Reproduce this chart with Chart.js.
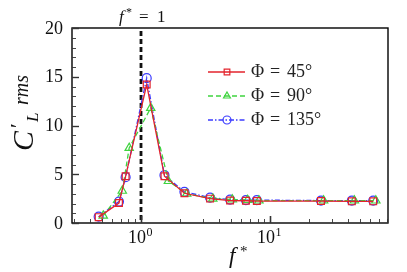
<!DOCTYPE html>
<html>
<head>
<meta charset="utf-8">
<script src="https://cdn.jsdelivr.net/npm/chart.js@4"></script>
<style>
  html, body { margin: 0; padding: 0; background: #fff; }
  #wrap { width: 407px; height: 272px; }
</style>
</head>
<body>
<div id="wrap"><canvas id="chart" width="407" height="272"></canvas></div>
<script>
// frequency ratio f* and rms lift coefficient
const fRed = [0.47, 0.675, 0.76, 1.107, 1.52, 2.17, 3.43, 4.9, 6.5, 7.9, 24.8, 43, 63];
const cRed = [0.6, 2.05, 4.8, 14.2, 4.8, 3.05, 2.5, 2.3, 2.28, 2.25, 2.25, 2.22, 2.22];
const fGreen = [0.51, 0.716, 0.81, 1.19, 1.63, 2.26, 3.6, 5.1, 6.7, 8.2, 26, 45, 66];
const cGreen = [0.75, 3.3, 7.7, 11.8, 4.3, 3.0, 2.5, 2.4, 2.35, 2.3, 2.3, 2.3, 2.3];
const fBlue = [0.47, 0.675, 0.76, 1.107, 1.52, 2.17, 3.43, 4.9, 6.5, 7.9, 24.8, 43, 63];
const cBlue = [0.65, 2.2, 4.7, 14.85, 4.9, 3.2, 2.6, 2.4, 2.35, 2.35, 2.3, 2.3, 2.3];
const seriesAngles = ['45\u00B0', '90\u00B0', '135\u00B0'];
const xMajorTicks = [1, 10];
const yTicks = [0, 5, 10, 15, 20];

const SERIF = '"Liberation Serif", "DejaVu Serif", serif';

function pts(xs, ys) {
  return xs.map((x, i) => ({ x: x, y: ys[i] }));
}

const datasets = [
  { label: '\u03A6 = ' + seriesAngles[0], data: pts(fRed, cRed), borderColor: '#e3232c', borderWidth: 1.3,
    pointStyle: 'rect', pointRadius: 4.8, pointBorderColor: '#e3232c', pointBorderWidth: 1.2,
    pointBackgroundColor: 'rgba(0,0,0,0)', borderDash: [] },
  { label: '\u03A6 = ' + seriesAngles[1], data: pts(fGreen, cGreen), borderColor: '#3fd43f', borderWidth: 1.3,
    pointStyle: 'triangle', pointRadius: 4.8, pointBorderColor: '#3fd43f', pointBorderWidth: 1.2,
    pointBackgroundColor: 'rgba(0,0,0,0)', borderDash: [5, 3] },
  { label: '\u03A6 = ' + seriesAngles[2], data: pts(fBlue, cBlue), borderColor: '#3b3bff', borderWidth: 1.3,
    pointStyle: 'circle', pointRadius: 4.5, pointBorderColor: '#3b3bff', pointBorderWidth: 1.2,
    pointBackgroundColor: 'rgba(0,0,0,0)', borderDash: [5, 2, 1.5, 2] }
];

// frame, ticks, labels, the f*=1 marker and the legend
const decorations = {
  id: 'decorations',
  beforeDatasetsDraw(chart) {
    const { ctx, chartArea: a, scales: { x } } = chart;
    const px = x.getPixelForValue(1);
    ctx.save();
    ctx.strokeStyle = '#111';
    ctx.lineWidth = 2.8;
    ctx.setLineDash([5, 3]);
    ctx.beginPath();
    ctx.moveTo(px, a.top + 3);
    ctx.lineTo(px, a.bottom);
    ctx.stroke();
    ctx.restore();
  },
  afterDraw(chart) {
    const { ctx, chartArea: a, scales: { x, y } } = chart;
    ctx.save();
    ctx.strokeStyle = '#000';
    ctx.lineWidth = 1.4;
    ctx.strokeRect(a.left, a.top, a.right - a.left, a.bottom - a.top);

    // x ticks (log, inward)
    ctx.strokeStyle = '#333';
    for (let k = -1; k <= 1; k++) {
      for (let m = 1; m <= 9; m++) {
        const v = m * Math.pow(10, k);
        if (v < x.min || v > x.max) continue;
        const p = Math.round(x.getPixelForValue(v)) + 0.5;
        const len = m === 1 ? 7 : 4;
        ctx.lineWidth = m === 1 ? 1.6 : 0.9;
        ctx.beginPath();
        ctx.moveTo(p, a.bottom);
        ctx.lineTo(p, a.bottom - len);
        ctx.stroke();
      }
    }
    // y ticks
    for (let v = 0; v <= 20; v++) {
      const p = Math.round(y.getPixelForValue(v)) + 0.5;
      const major = v % 5 === 0;
      ctx.lineWidth = major ? 1.4 : 0.9;
      ctx.beginPath();
      ctx.moveTo(a.left, p);
      ctx.lineTo(a.left + (major ? 7 : 4), p);
      ctx.stroke();
    }

    ctx.fillStyle = '#111';
    // y tick labels
    ctx.font = '18px ' + SERIF;
    ctx.textAlign = 'right';
    ctx.textBaseline = 'middle';
    yTicks.forEach(v => ctx.fillText(String(v), a.left - 9, y.getPixelForValue(v) + 1));

    // x tick labels 10^k
    xMajorTicks.forEach(v => {
      const p = x.getPixelForValue(v);
      const e = String(Math.round(Math.log10(v)));
      ctx.font = '18px ' + SERIF;
      const w1 = ctx.measureText('10').width;
      ctx.font = '12px ' + SERIF;
      const w2 = ctx.measureText(e).width;
      const start = p - (w1 + w2) / 2 - 1;
      ctx.textAlign = 'left';
      ctx.textBaseline = 'alphabetic';
      ctx.font = '18px ' + SERIF;
      ctx.fillText('10', start, a.bottom + 20);
      ctx.font = '12px ' + SERIF;
      ctx.fillText(e, start + w1 + 0.5, a.bottom + 13);
    });

    // x axis title f*
    ctx.font = 'italic 23px ' + SERIF;
    ctx.textAlign = 'left';
    ctx.fillText('f', 229, 263);
    ctx.font = '15px ' + SERIF;
    ctx.fillText('*', 240, 256);

    // f* = 1 annotation
    ctx.font = 'italic 17px ' + SERIF;
    ctx.fillText('f', 119, 22);
    ctx.font = '12px ' + SERIF;
    ctx.fillText('*', 126, 16);
    ctx.font = '17px ' + SERIF;
    ctx.fillText('=', 139, 22);
    ctx.fillText('1', 157, 22);

    // y axis title C'_L^rms
    ctx.save();
    ctx.translate(33, 151);
    ctx.rotate(-Math.PI / 2);
    ctx.font = 'italic 30px ' + SERIF;
    ctx.fillText('C', 0, 0);
    ctx.font = '22px ' + SERIF;
    ctx.fillText('\u2032', 23, -8);
    ctx.font = 'italic 17px ' + SERIF;
    ctx.fillText('L', 29, 5);
    ctx.font = 'italic 20px ' + SERIF;
    ctx.fillText('rms', 46, -5);
    ctx.restore();

    // legend
    const rows = [72, 96, 120];
    chart.data.datasets.forEach((ds, i) => {
      const yy = rows[i];
      ctx.save();
      ctx.strokeStyle = ds.borderColor;
      ctx.lineWidth = ds.borderWidth;
      ctx.setLineDash(ds.borderDash);
      ctx.beginPath();
      ctx.moveTo(208, yy);
      ctx.lineTo(245, yy);
      ctx.stroke();
      ctx.setLineDash([]);
      ctx.lineWidth = ds.pointBorderWidth;
      ctx.fillStyle = 'rgba(0,0,0,0)';
      Chart.helpers.drawPoint(ctx, { pointStyle: ds.pointStyle, rotation: 0, radius: 4,
        borderWidth: ds.pointBorderWidth }, 227, yy);
      ctx.restore();
      ctx.fillStyle = '#222';
      ctx.font = '18px ' + SERIF;
      ctx.textAlign = 'left';
      ctx.textBaseline = 'middle';
      ctx.fillText('\u03A6', 251, yy);
      ctx.textAlign = 'center';
      ctx.fillText('=', 275, yy);
      ctx.textAlign = 'left';
      ctx.fillText(seriesAngles[i], 287, yy);
    });
    ctx.restore();
  }
};

new Chart(document.getElementById('chart'), {
  type: 'line',
  data: { datasets: datasets },
  options: {
    responsive: false,
    animation: false,
    layout: { padding: { left: 72, right: 19, top: 28, bottom: 49 } },
    plugins: { legend: { display: false }, tooltip: { enabled: false } },
    elements: { line: { tension: 0 } },
    scales: {
      x: { type: 'logarithmic', min: 0.292, max: 82, display: false },
      y: { type: 'linear', min: 0, max: 20, display: false }
    }
  },
  plugins: [decorations]
});
</script>
</body>
</html>
